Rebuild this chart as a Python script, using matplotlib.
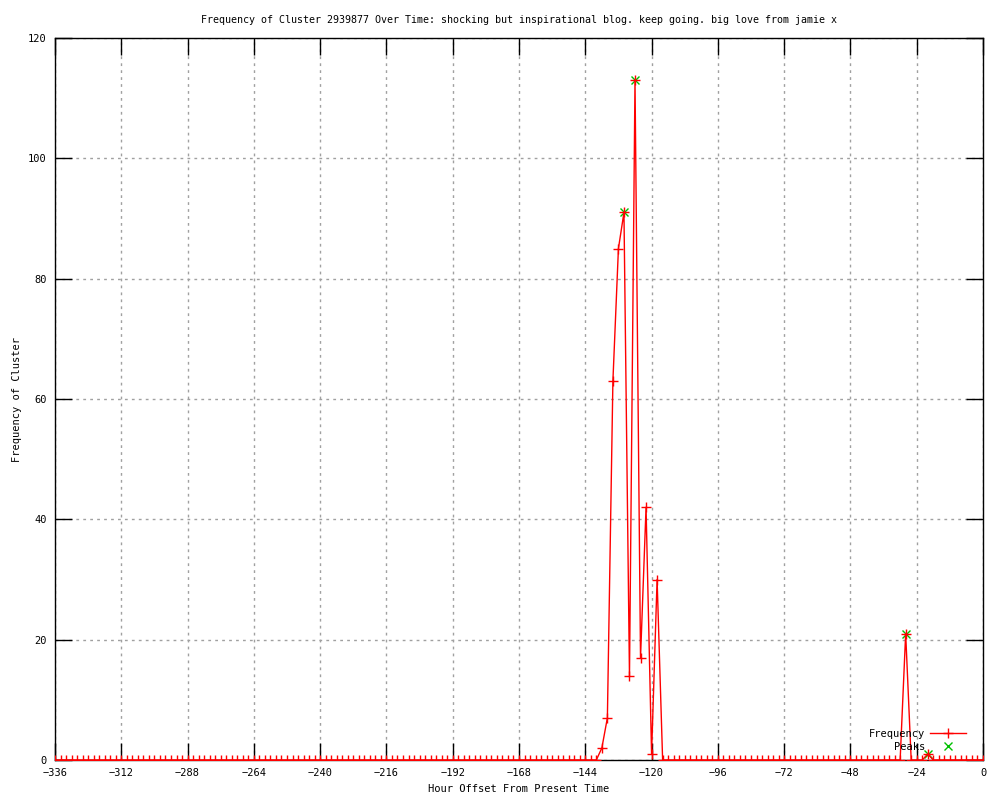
import matplotlib
matplotlib.use("Agg")
import matplotlib.pyplot as plt

# horas (cada 2 h) y recuentos distintos de cero
horas = list(range(-336, 1, 2))
horas_pico = [-138, -136, -134, -132, -130, -128, -126, -124, -122, -120, -118, -28, -20]
valores_pico = [2, 7, 63, 85, 91, 14, 113, 17, 42, 1, 30, 21, 1]

picos_x = [-130, -126, -28, -20]
picos_y = [91, 113, 21, 1]

frecuencia = [valores_pico[horas_pico.index(h)] if h in horas_pico else 0 for h in horas]

titulo = "Frequency of Cluster 2939877 Over Time: shocking but inspirational blog. keep going. big love from jamie x"

plt.rcParams['font.family'] = ['DejaVu Sans Mono']
plt.rcParams['font.size'] = 7

fig = plt.figure(figsize=(10, 8), dpi=100)
ax = fig.add_axes([0.055, 0.05, 0.928, 0.9025])

ax.plot(picos_x, picos_y, linestyle='none', marker='x', color='#00c000',
        markersize=6, mew=1, label='Peaks', zorder=3)
ax.plot(horas, frecuencia, color='red', linewidth=1, marker='+',
        markersize=7, mew=1, label='Frequency', zorder=4)

ax.set_xlim(-336, 0)
ax.set_ylim(0, 120)
ax.set_xticks(range(-336, 1, 24))
ax.set_yticks(range(0, 121, 20))
ax.tick_params(direction='in', length=12, width=1, top=True, right=True, labelsize=7.5, pad=6)
ax.grid(True, color='#a0a0a0', linestyle=(0, (2, 3)), linewidth=1)
for s in ax.spines.values():
    s.set_linewidth(1)

ax.set_title(titulo, fontsize=7.2, pad=11)
ax.set_xlabel("Hour Offset From Present Time", fontsize=7.5)
ax.set_ylabel("Frequency of Cluster", fontsize=7.5)

h, l = ax.get_legend_handles_labels()
ax.legend([h[1], h[0]], [l[1], l[0]], loc='lower right', frameon=False,
          markerfirst=False, fontsize=7.5, handlelength=3.4, handletextpad=0.5,
          labelspacing=0.25, borderaxespad=0, bbox_to_anchor=(0.986, 0.006))

fig.savefig("out.png", dpi=100)
